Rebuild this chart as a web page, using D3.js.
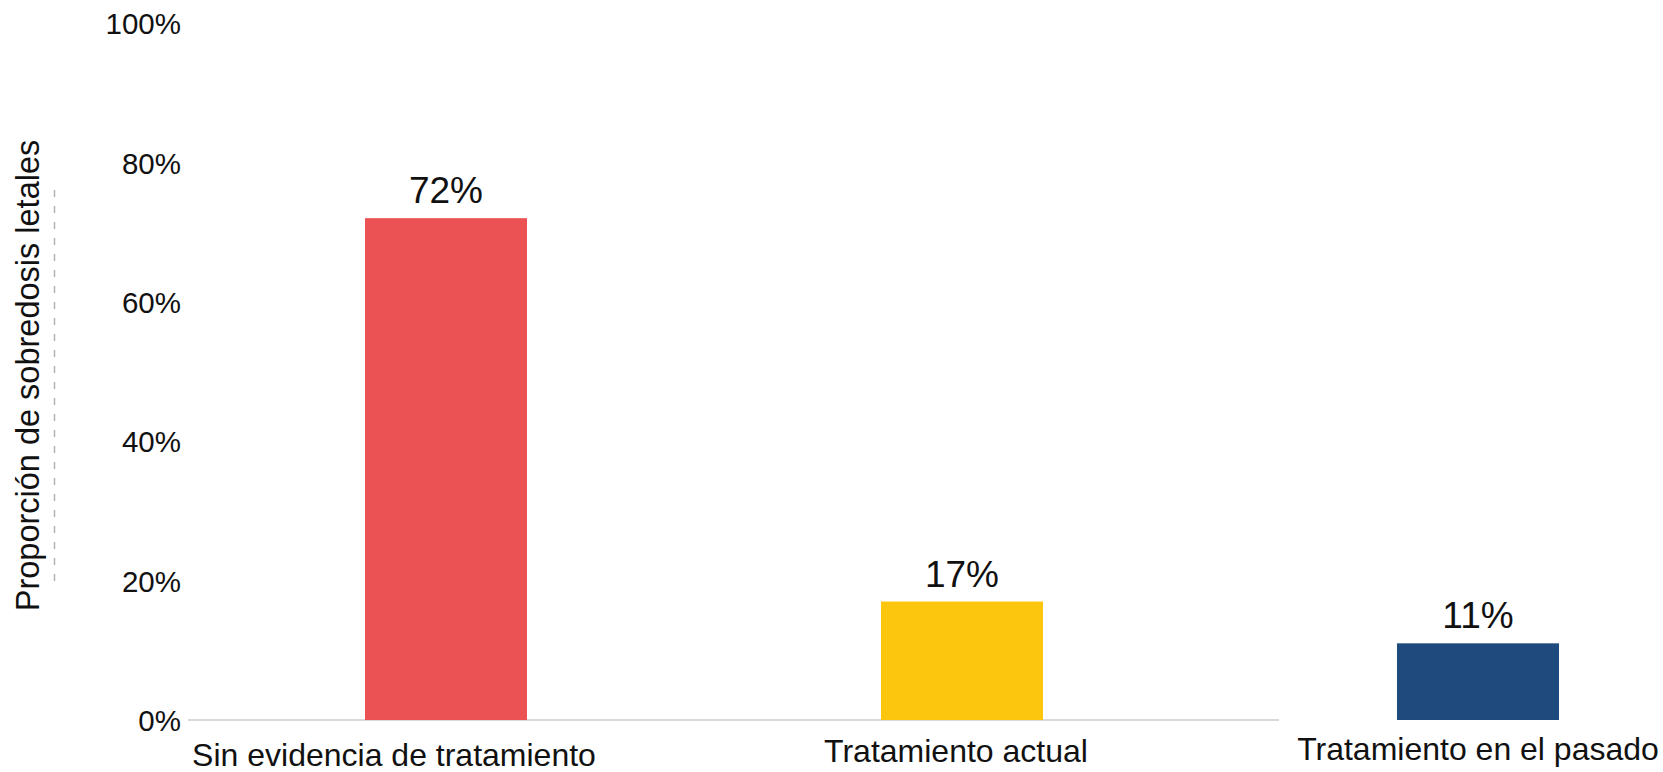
<!DOCTYPE html>
<html>
<head>
<meta charset="utf-8">
<script src="https://cdn.jsdelivr.net/npm/d3@7"></script>
<style>
  html, body { margin: 0; padding: 0; background: #fff; }
  svg { display: block; font-family: "Liberation Sans", Arial, sans-serif; }
</style>
</head>
<body>
<svg id="chart" width="1663" height="772"></svg>
<script>
const categories = ["Sin evidencia de tratamiento", "Tratamiento actual", "Tratamiento en el pasado"];
const values = [72, 17, 11];
const valueLabels = ["72%", "17%", "11%"];
const colors = ["#EB5254", "#FDC60E", "#1F4A7D"];
const yTicks = [0, 20, 40, 60, 80, 100];
const yTickLabels = ["0%", "20%", "40%", "60%", "80%", "100%"];
const yTitle = "Proporción de sobredosis letales";

const svg = d3.select("#chart");

const x = d3.scaleBand()
  .domain(categories)
  .range([188, 1736])
  .paddingInner(0.686)
  .paddingOuter(0.343);

const y = d3.scaleLinear().domain([0, 100]).range([720, 23]);

// faint clipped ghost of a second title (artifact in reference)
svg.append("line")
  .attr("x1", 54.5).attr("x2", 54.5)
  .attr("y1", 190).attr("y2", 587)
  .attr("stroke", "#b5b5b5")
  .attr("stroke-width", 1.5)
  .attr("stroke-dasharray", "7,9");

// y tick labels
const yAxis = d3.axisLeft(y)
  .tickValues(yTicks)
  .tickFormat((d, i) => yTickLabels[i])
  .tickSize(0)
  .tickPadding(0);
const gy = svg.append("g").attr("transform", "translate(181,0)").call(yAxis);
gy.select(".domain").remove();
gy.selectAll("text")
  .attr("font-family", "Liberation Sans, Arial, sans-serif")
  .attr("font-size", 29.5)
  .attr("fill", "#111")
  .attr("dy", "0.36em");

// x baseline
svg.append("line")
  .attr("x1", 188).attr("x2", 1279)
  .attr("y1", y(0)).attr("y2", y(0))
  .attr("stroke", "#d9d9d9")
  .attr("stroke-width", 2);

// bars
svg.selectAll("rect.bar")
  .data(values)
  .join("rect")
  .attr("class", "bar")
  .attr("x", (d, i) => x(categories[i]))
  .attr("width", x.bandwidth())
  .attr("y", d => y(d))
  .attr("height", d => y(0) - y(d))
  .attr("fill", (d, i) => colors[i]);

// value labels
svg.selectAll("text.val")
  .data(values)
  .join("text")
  .attr("class", "val")
  .attr("x", (d, i) => x(categories[i]) + x.bandwidth() / 2)
  .attr("y", d => y(d) - 15)
  .attr("text-anchor", "middle")
  .attr("font-size", 37)
  .attr("fill", "#111")
  .text((d, i) => valueLabels[i]);

// category labels
const labelShift = [-52, -6, 0];
const labelBaseline = [766, 762, 760];
svg.selectAll("text.cat")
  .data(categories)
  .join("text")
  .attr("class", "cat")
  .attr("x", (d, i) => x(d) + x.bandwidth() / 2 + labelShift[i])
  .attr("y", (d, i) => labelBaseline[i])
  .attr("text-anchor", "middle")
  .attr("font-size", 32)
  .attr("fill", "#111")
  .text(d => d);

// y title
svg.append("text")
  .attr("transform", "translate(38.5,375.5) rotate(-90)")
  .attr("text-anchor", "middle")
  .attr("font-size", 32.5)
  .attr("fill", "#111")
  .text(yTitle);
</script>
</body>
</html>
